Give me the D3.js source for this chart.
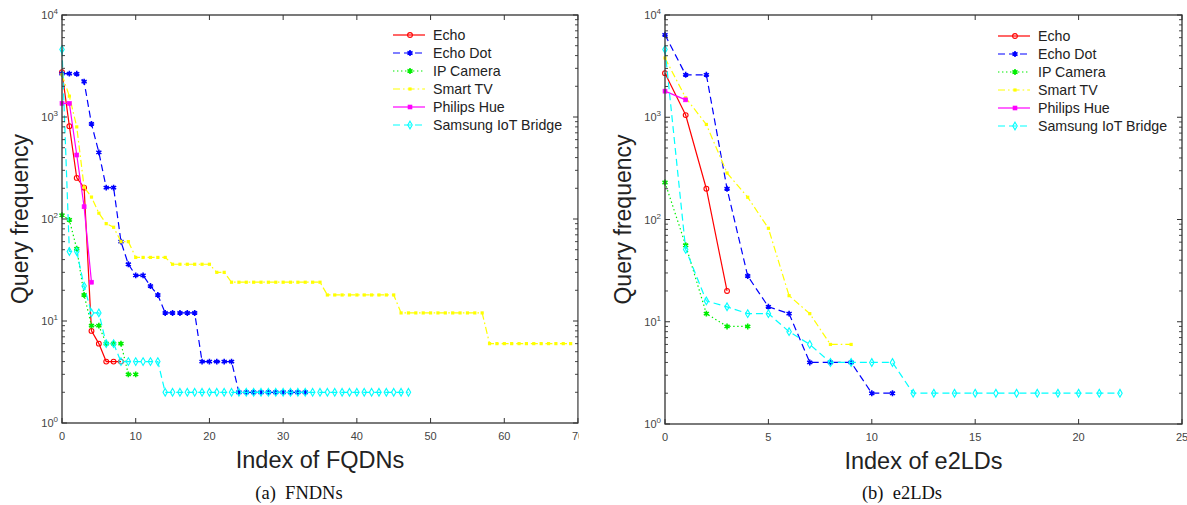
<!DOCTYPE html>
<html>
<head>
<meta charset="utf-8">
<script src="https://cdn.jsdelivr.net/npm/d3@7"></script>
<style>
  body { margin: 0; background: #fff; }
  svg { display: block; }
</style>
</head>
<body>
<svg id="fig" width="1187" height="505"></svg>
<script>
// ---- data -------------------------------------------------------------
const seriesNames = ["Echo", "Echo Dot", "IP Camera", "Smart TV", "Philips Hue", "Samsung IoT Bridge"];

// (a) query frequency per FQDN, sorted by rank (index 0 = most queried)
const fqdnEcho = [2750, 813, 253, 203, 8, 6, 4, 4, 4];
const fqdnEchoDot = [2660, 2660, 2650, 2220, 855, 450, 203, 203, 60, 36, 28, 28, 22, 18,
  12, 12, 12, 12, 12, 4, 4, 4, 4, 4, 2, 2, 2, 2, 2, 2, 2, 2, 2, 2];
const fqdnIpCamera = [109, 98, 51, 18, 9, 9, 6, 6, 6, 3, 3];
const fqdnSmartTv = [2600, 1600, 800, 205, 164, 114, 90, 83, 60, 60,
  42, 42, 42, 42, 42, 36, 36, 36, 36, 36, 36, 30, 30,
  24, 24, 24, 24, 24, 24, 24, 24, 24, 24, 24, 24, 24,
  18, 18, 18, 18, 18, 18, 18, 18, 18, 18,
  12, 12, 12, 12, 12, 12, 12, 12, 12, 12, 12, 12,
  6, 6, 6, 6, 6, 6, 6, 6, 6, 6, 6, 6];
const fqdnPhilipsHue = [1360, 1360, 424, 132, 24];
const fqdnSamsung = [4600, 48, 48, 22, 12, 12, 6, 6, 4, 4, 4, 4, 4, 4,
  2, 2, 2, 2, 2, 2, 2, 2, 2, 2, 2, 2, 2, 2, 2, 2, 2, 2, 2, 2, 2, 2, 2, 2, 2, 2, 2, 2, 2, 2, 2, 2, 2, 2];

// (b) query frequency per e2LD
const e2ldEcho = [2700, 1050, 200, 20];
const e2ldEchoDot = [6400, 2600, 2600, 200, 28, 14, 12, 4, 4, 4, 2, 2];
const e2ldIpCamera = [230, 56, 12, 9, 9];
const e2ldSmartTv = [3800, 1550, 850, 285, 165, 82, 18, 12, 6, 6];
const e2ldPhilipsHue = [1800, 1480];
const e2ldSamsung = [4600, 51, 16, 14, 12, 12, 8, 6, 4, 4, 4, 4, 2, 2, 2, 2, 2, 2, 2, 2, 2, 2, 2];

const fqdnTicks = [0, 10, 20, 30, 40, 50, 60, 70];
const e2ldTicks = [0, 5, 10, 15, 20, 25];
const yDecades = [0, 1, 2, 3, 4];

// ---- styling ----------------------------------------------------------
const styles = [
  { color: "#ff0000", dash: null,          marker: "circle" },
  { color: "#0000ff", dash: "7,4",         marker: "asterisk" },
  { color: "#00ee00", dash: "1.4,2.6",     marker: "asterisk" },
  { color: "#ffff00", dash: "7,3,1.6,3",   marker: "dot" },
  { color: "#ff00ff", dash: null,          marker: "square" },
  { color: "#00ffff", dash: "7,4",         marker: "diamond" }
];

const svg = d3.select("#fig");
const axisColor = "#333";
const labelColor = "#444";
const sans = "'Liberation Sans', Arial, Helvetica, sans-serif";
const serif = "'Liberation Serif', 'Times New Roman', serif";

function drawMarker(g, type, color, x, y) {
  if (type === "circle") {
    g.append("circle").attr("cx", x).attr("cy", y).attr("r", 2.4)
      .attr("fill", "none").attr("stroke", color).attr("stroke-width", 1.1);
  } else if (type === "asterisk") {
    g.append("path").attr("transform", `translate(${x},${y})`)
      .attr("d", d3.symbol(d3.symbolAsterisk, 24)())
      .attr("fill", "none").attr("stroke", color).attr("stroke-width", 1.6);
    g.append("circle").attr("cx", x).attr("cy", y).attr("r", 1.5).attr("fill", color);
  } else if (type === "dot") {
    g.append("rect").attr("x", x - 1.6).attr("y", y - 1.6).attr("width", 3.2).attr("height", 3.2)
      .attr("fill", color);
  } else if (type === "square") {
    g.append("rect").attr("x", x - 2).attr("y", y - 2).attr("width", 4).attr("height", 4)
      .attr("fill", color).attr("stroke", color).attr("stroke-width", 0.6);
  } else if (type === "diamond") {
    g.append("path").attr("transform", `translate(${x},${y})`)
      .attr("d", d3.symbol(d3.symbolDiamond, 17)())
      .attr("fill", "none").attr("stroke", color).attr("stroke-width", 1.1);
  }
}

function panel(cfg) {
  const g = svg.append("g");
  if (cfg.clip) {
    const id = "clip-" + cfg.key;
    svg.append("clipPath").attr("id", id).append("rect")
      .attr("x", cfg.clip[0]).attr("y", 0).attr("width", cfg.clip[1] - cfg.clip[0]).attr("height", 505);
    g.attr("clip-path", `url(#${id})`);
  }

  const x = d3.scaleLinear().domain(cfg.xDomain).range([cfg.left, cfg.right]);
  const y = d3.scaleLog().domain([1, 1e4]).range([cfg.bottom, cfg.top]);

  // plotted series
  const plot = g.append("g");
  cfg.series.forEach((vals, i) => {
    const st = styles[i];
    const line = d3.line().x((d, j) => x(j)).y(d => y(d));
    plot.append("path").datum(vals).attr("d", line)
      .attr("fill", "none").attr("stroke", st.color).attr("stroke-width", 1.2)
      .attr("stroke-dasharray", st.dash);
    const mg = plot.append("g");
    vals.forEach((v, j) => drawMarker(mg, st.marker, st.color, x(j), y(v)));
  });

  // box and ticks
  const ax = g.append("g");
  ax.append("rect").attr("x", cfg.left).attr("y", cfg.top)
    .attr("width", cfg.right - cfg.left).attr("height", cfg.bottom - cfg.top)
    .attr("fill", "none").attr("stroke", axisColor).attr("stroke-width", 1.3);

  cfg.xTicks.forEach(t => {
    const px = x(t);
    ax.append("line").attr("x1", px).attr("x2", px).attr("y1", cfg.bottom).attr("y2", cfg.bottom - 5)
      .attr("stroke", axisColor);
    ax.append("line").attr("x1", px).attr("x2", px).attr("y1", cfg.top).attr("y2", cfg.top + 5)
      .attr("stroke", axisColor);
    ax.append("text").attr("x", px).attr("y", cfg.bottom + 17)
      .attr("text-anchor", "middle").attr("font-family", sans).attr("font-size", 11)
      .attr("fill", labelColor).text(t);
  });

  yDecades.forEach(k => {
    const py = y(Math.pow(10, k));
    [[cfg.left, 5], [cfg.right, -5]].forEach(([bx, len]) => {
      ax.append("line").attr("x1", bx).attr("x2", bx + len).attr("y1", py).attr("y2", py)
        .attr("stroke", axisColor);
    });
    const lbl = ax.append("text").attr("x", cfg.left - 4).attr("y", py + 4)
      .attr("text-anchor", "end").attr("font-family", sans).attr("font-size", 11)
      .attr("fill", labelColor);
    lbl.append("tspan").text("10");
    lbl.append("tspan").attr("dy", -5).attr("font-size", 8).text(k);
    if (k < 4) {
      for (let m = 2; m <= 9; m++) {
        const pm = y(m * Math.pow(10, k));
        [[cfg.left, 3], [cfg.right, -3]].forEach(([bx, len]) => {
          ax.append("line").attr("x1", bx).attr("x2", bx + len).attr("y1", pm).attr("y2", pm)
            .attr("stroke", axisColor).attr("stroke-width", 0.9);
        });
      }
    }
  });

  // axis titles and caption
  g.append("text").attr("transform", `translate(${cfg.left - 34},${(cfg.top + cfg.bottom) / 2}) rotate(-90)`)
    .attr("text-anchor", "middle").attr("font-family", sans).attr("font-size", 23)
    .attr("fill", "#222").text("Query frequency");
  g.append("text").attr("x", (cfg.left + cfg.right) / 2).attr("y", cfg.bottom + 45)
    .attr("text-anchor", "middle").attr("font-family", sans).attr("font-size", 23.5)
    .attr("fill", "#222").text(cfg.xTitle);
  svg.append("text").attr("x", cfg.captionX).attr("y", 499)
    .attr("text-anchor", "middle").attr("font-family", serif).attr("font-size", 18.5)
    .attr("fill", "#111").text(cfg.caption);

  // legend
  const lg = g.append("g");
  seriesNames.forEach((name, i) => {
    const st = styles[i];
    const ly = cfg.legend.y + i * 18;
    lg.append("line").attr("x1", cfg.legend.x).attr("x2", cfg.legend.x + 32)
      .attr("y1", ly).attr("y2", ly).attr("stroke", st.color).attr("stroke-width", 1.2)
      .attr("stroke-dasharray", st.dash);
    drawMarker(lg, st.marker, st.color, cfg.legend.x + 17, ly);
    lg.append("text").attr("x", cfg.legend.x + 40).attr("y", ly + 5)
      .attr("font-family", sans).attr("font-size", 14.2).attr("fill", "#222").text(name);
  });
}

panel({
  key: "fqdn",
  left: 62, right: 578, top: 15, bottom: 423,
  xDomain: [0, 70], xTicks: fqdnTicks,
  series: [fqdnEcho, fqdnEchoDot, fqdnIpCamera, fqdnSmartTv, fqdnPhilipsHue, fqdnSamsung],
  xTitle: "Index of FQDNs", caption: "(a)\u00a0\u00a0FNDNs", captionX: 299,
  legend: { x: 393, y: 35 },
  clip: [0, 578.8]
});

panel({
  key: "e2ld",
  left: 665, right: 1182, top: 15, bottom: 424,
  xDomain: [0, 25], xTicks: e2ldTicks,
  series: [e2ldEcho, e2ldEchoDot, e2ldIpCamera, e2ldSmartTv, e2ldPhilipsHue, e2ldSamsung],
  xTitle: "Index of e2LDs", caption: "(b)\u00a0\u00a0e2LDs", captionX: 902,
  legend: { x: 998, y: 36 }
});
</script>
</body>
</html>
